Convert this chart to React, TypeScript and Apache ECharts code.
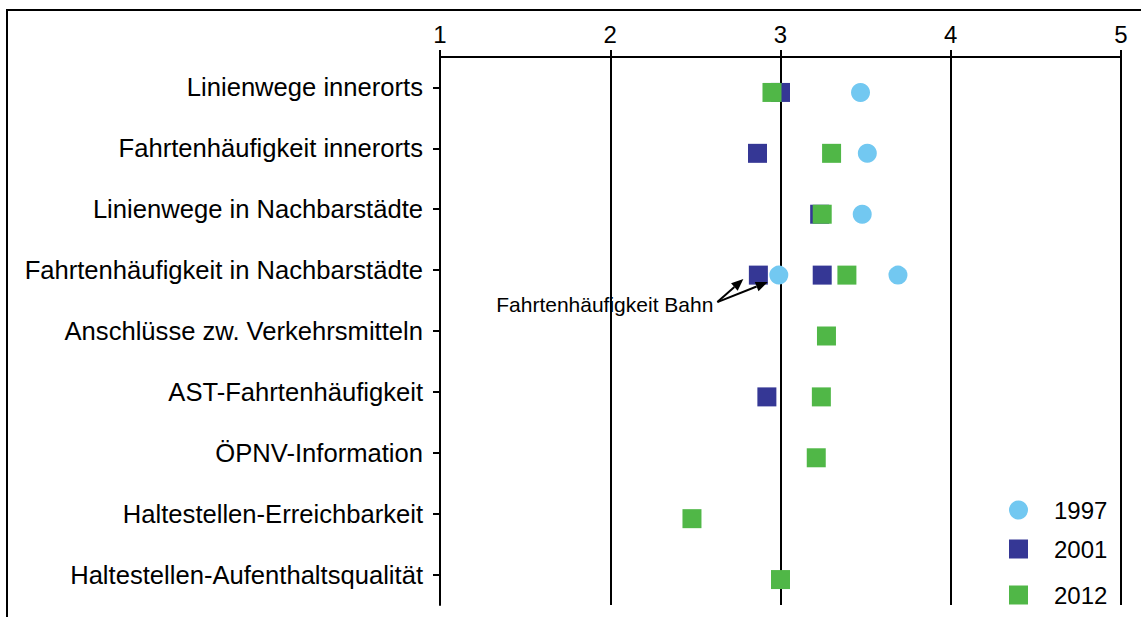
import React, { useEffect, useRef } from "react";
import * as echarts from "echarts";

const categories = [
  "Linienwege innerorts",
  "Fahrtenhäufigkeit innerorts",
  "Linienwege in Nachbarstädte",
  "Fahrtenhäufigkeit in Nachbarstädte",
  "Anschlüsse zw. Verkehrsmitteln",
  "AST-Fahrtenhäufigkeit",
  "ÖPNV-Information",
  "Haltestellen-Erreichbarkeit",
  "Haltestellen-Aufenthaltsqualität",
];

const v1997: (number | null)[] = [3.47, 3.51, 3.48, 3.69, null, null, null, null, null];
const v2001: (number | null)[] = [3.0, 2.865, 3.23, 3.245, null, 2.92, null, null, null];
const v2012: (number | null)[] = [2.95, 3.3, 3.245, 3.39, 3.27, 3.24, 3.21, 2.48, 3.0];

// "Fahrtenhäufigkeit Bahn" (row: Fahrtenhäufigkeit in Nachbarstädte)
const bahnRow = 3;
const bahn1997 = 2.99;
const bahn2001 = 2.87;

const xTicks = [1, 2, 3, 4, 5];
const seriesNames = ["1997", "2001", "2012"];
const annotationText = "Fahrtenhäufigkeit Bahn";

const FONT = "'Liberation Sans', Arial, sans-serif";
const C1997 = "#72C8F1";
const C2001 = "#353795";
const C2012 = "#50B747";

function toPairs(vals: (number | null)[]) {
  const out: [number, number][] = [];
  vals.forEach((v, i) => {
    if (v != null) out.push([v, i]);
  });
  return out;
}

function arrow(o: number[], t: number[]) {
  const dx = t[0] - o[0];
  const dy = t[1] - o[1];
  const len = Math.sqrt(dx * dx + dy * dy);
  const ux = dx / len;
  const uy = dy / len;
  const L = 12;
  const W = 5;
  const bx = t[0] - ux * L;
  const by = t[1] - uy * L;
  const nx = -uy;
  const ny = ux;
  return [
    {
      type: "line",
      shape: { x1: o[0], y1: o[1], x2: bx, y2: by },
      style: { stroke: "#000", lineWidth: 2 },
      z: 100,
    },
    {
      type: "polygon",
      shape: {
        points: [
          [t[0], t[1]],
          [bx + nx * W, by + ny * W],
          [bx - nx * W, by - ny * W],
        ],
      },
      style: { fill: "#000" },
      z: 100,
    },
  ];
}

export default function App() {
  const ref = useRef<HTMLDivElement>(null);

  useEffect(() => {
    if (!ref.current) return;
    const chart = echarts.init(ref.current, null, { renderer: "svg" });

    const d1997 = toPairs(v1997);
    d1997.push([bahn1997, bahnRow]);
    const d2001 = toPairs(v2001);
    d2001.push([bahn2001, bahnRow]);
    const d2012 = toPairs(v2012);

    const symOffset = [0, 5];
    const legendTops = [498, 537, 583];

    chart.setOption({
      animation: false,
      backgroundColor: "#ffffff",
      textStyle: { fontFamily: FONT },
      grid: { left: 440, right: 20, top: 57, bottom: 12, containLabel: false },
      xAxis: {
        type: "value",
        position: "top",
        min: 1,
        max: 5,
        interval: 1,
        axisLine: { show: true, lineStyle: { color: "#000", width: 2 } },
        axisTick: { show: true, length: 7, lineStyle: { color: "#000", width: 2 } },
        axisLabel: {
          color: "#000",
          fontSize: 24,
          fontFamily: FONT,
          margin: 11,
          formatter: (v: number) => (xTicks.indexOf(v) >= 0 ? String(v) : ""),
        },
        splitLine: { show: true, lineStyle: { color: "#000", width: 2 } },
      },
      yAxis: {
        type: "category",
        inverse: true,
        data: categories,
        axisLine: { show: true, lineStyle: { color: "#000", width: 2 } },
        axisTick: { show: true, alignWithLabel: true, length: 7, lineStyle: { color: "#000", width: 2 } },
        axisLabel: { color: "#000", fontSize: 25.6, fontFamily: FONT, margin: 17 },
        splitLine: { show: false },
      },
      legend: seriesNames.map((n, i) => ({
        orient: "vertical",
        left: 1009,
        top: legendTops[i],
        padding: 0,
        itemWidth: 19,
        itemHeight: 19,
        textStyle: { color: "#000", fontSize: 24, lineHeight: 19, fontFamily: FONT, padding: [0, 0, 0, 21] },
        data: [n],
      })),
      series: [
        {
          type: "scatter",
          name: seriesNames[0],
          symbol: "circle",
          symbolSize: 19,
          symbolOffset: symOffset,
          itemStyle: { color: C1997, opacity: 1 },
          data: d1997,
          z: 3,
        },
        {
          type: "scatter",
          name: seriesNames[1],
          symbol: "rect",
          symbolSize: 19,
          symbolOffset: symOffset,
          itemStyle: { color: C2001, opacity: 1 },
          data: d2001,
          z: 4,
        },
        {
          type: "scatter",
          name: seriesNames[2],
          symbol: "rect",
          symbolSize: 19,
          symbolOffset: symOffset,
          itemStyle: { color: C2012, opacity: 1 },
          data: d2012,
          z: 5,
        },
      ],
    });

    const sq = chart.convertToPixel({ xAxisIndex: 0, yAxisIndex: 0 }, [bahn2001, bahnRow]) as number[];
    const ci = chart.convertToPixel({ xAxisIndex: 0, yAxisIndex: 0 }, [bahn1997, bahnRow]) as number[];
    const sqC = [sq[0], sq[1] + symOffset[1]];
    const ciC = [ci[0], ci[1] + symOffset[1]];
    const origin = [sqC[0] - 41, sqC[1] + 27];
    const tipA = [sqC[0] - 15, sqC[1] + 4];
    const tipB = [ciC[0] - 11, ciC[1] + 7];

    chart.setOption({
      graphic: [
        {
          type: "rect",
          shape: { x: 7, y: 10, width: 1400, height: 900 },
          style: { fill: "none", stroke: "#000", lineWidth: 2 },
          silent: true,
          z: 50,
        },
        {
          type: "text",
          x: origin[0] - 4,
          y: origin[1] + 2,
          style: {
            text: annotationText,
            fontSize: 21,
            fontFamily: FONT,
            fill: "#000",
            align: "right",
            verticalAlign: "middle",
          },
          z: 100,
        },
        ...arrow(origin, tipA),
        ...arrow(origin, tipB),
      ],
    });

    return () => chart.dispose();
  }, []);

  return (
    <div
      ref={ref}
      style={{ position: "fixed", left: 0, top: 0, width: 1141, height: 617 }}
    />
  );
}
